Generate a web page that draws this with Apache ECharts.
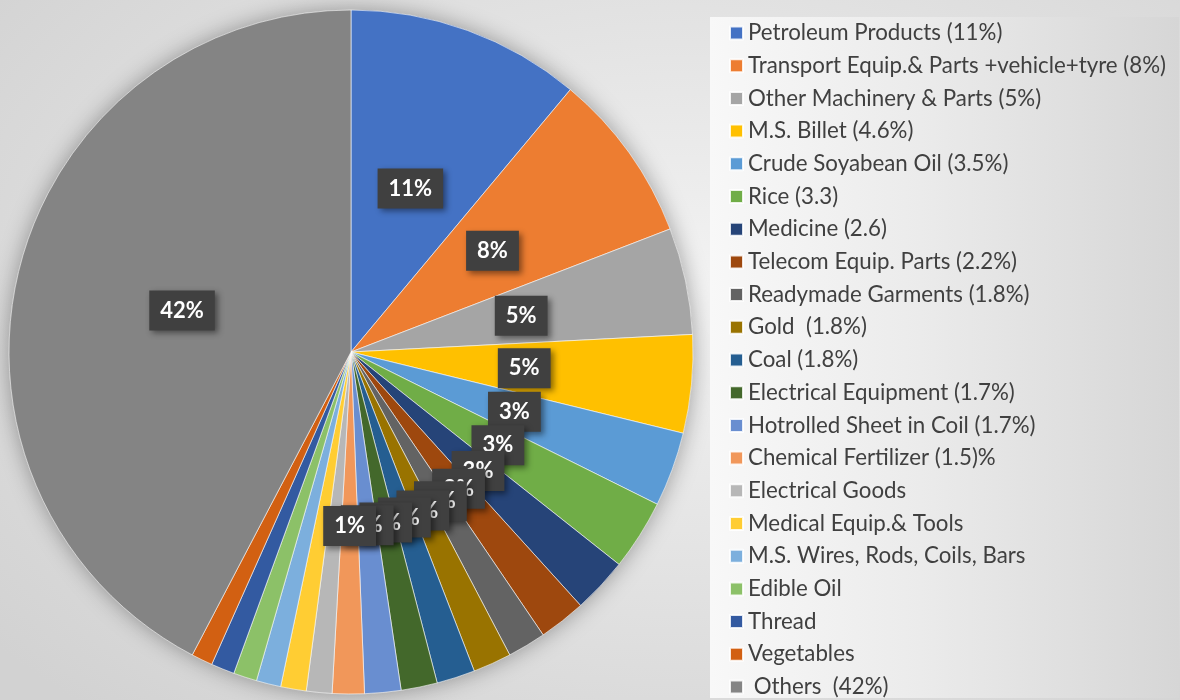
<!DOCTYPE html>
<html lang="en">
<head>
    <meta charset="UTF-8">
    <title>Import share</title>
    <script src="https://cdn.jsdelivr.net/npm/echarts@6/dist/echarts.min.js"></script>
    <style>
        html, body { margin: 0; padding: 0; }
        #chart {
            width: 1180px; height: 700px;
            background: radial-gradient(ellipse 75% 80% at 58% 42%, #f3f3f3 0%, #e4e4e4 45%, #d2d2d2 100%);
        }
    </style>
</head>
<body>
    <div id="chart"></div>
    <script type="text/javascript">
        // categories as in the legend
        let items = [
            'Petroleum Products (11%)',
            'Transport Equip.& Parts +vehicle+tyre (8%)',
            'Other Machinery & Parts (5%)',
            'M.S. Billet (4.6%)',
            'Crude Soyabean Oil (3.5%)',
            'Rice (3.3)',
            'Medicine (2.6)',
            'Telecom Equip. Parts (2.2%)',
            'Readymade Garments (1.8%)',
            'Gold  (1.8%)',
            'Coal (1.8%)',
            'Electrical Equipment (1.7%)',
            'Hotrolled Sheet in Coil (1.7%)',
            'Chemical Fertilizer (1.5)%',
            'Electrical Goods',
            'Medical Equip.& Tools',
            'M.S. Wires, Rods, Coils, Bars',
            'Edible Oil',
            'Thread',
            'Vegetables',
            ' Others  (42%)'
        ];
        // share in percent
        let shares = [11, 8, 5, 4.6, 3.5, 3.3, 2.6, 2.2, 1.8, 1.8, 1.8, 1.7, 1.7, 1.5,
                      1.2, 1.2, 1.15, 1.1, 1.1, 1.0, 42];
        // slice labels as printed on the chart ('' = no label)
        let pctLabels = ['11%', '8%', '5%', '5%', '3%', '3%', '3%', '2%', '2%', '2%', '2%', '2%', '2%', '1%',
                         '', '', '', '', '', '', '42%'];
        let colors = ['#4472C4', '#ED7D31', '#A5A5A5', '#FFC000', '#5B9BD5', '#70AD47', '#264478',
                      '#9E480E', '#636363', '#997300', '#255E91', '#43682B', '#698ED0', '#F1975A',
                      '#B7B7B7', '#FFCD33', '#7CAFDD', '#8CC168', '#335AA1', '#D26012', '#848484'];

        let myChart = echarts.init(document.getElementById('chart'));

        let data = [];
        items.forEach((name, i) => {
            data.push({
                name: name,
                value: shares[i],
                itemStyle: {color: colors[i]},
                label: {show: pctLabels[i] !== ''}
            });
        });

        let option = {
            animation: false,
            color: colors,
            legend: {
                orient: 'vertical',
                left: 710,
                top: 17,
                padding: [5, 13, 0, 19],
                itemWidth: 13,
                itemHeight: 13,
                itemGap: 10.7,
                icon: 'rect',
                backgroundColor: new echarts.graphic.LinearGradient(0, 0, 1, 0, [
                    {offset: 0, color: '#f8f8f8'},
                    {offset: 0.45, color: '#ebebeb'},
                    {offset: 1, color: '#d6d6d6'}
                ]),
                textStyle: {
                    fontFamily: 'Lato',
                    fontSize: 22.3,
                    lineHeight: 20,
                    color: '#404040'
                },
                data: items
            },
            series: [
                {
                    // soft shadow under the pie
                    name: 'shadow',
                    type: 'pie',
                    silent: true,
                    z: 1,
                    center: [351, 352],
                    radius: 342,
                    label: {show: false},
                    itemStyle: {
                        color: '#848484',
                        shadowBlur: 22,
                        shadowColor: 'rgba(0,0,0,0.35)'
                    },
                    data: [{name: '_bg', value: 1}]
                },
                {
                    name: 'Import',
                    type: 'pie',
                    z: 2,
                    center: [351, 352],
                    radius: 342,
                    startAngle: 90,
                    clockwise: true,
                    avoidLabelOverlap: false,
                    labelLayout: {hideOverlap: false},
                    itemStyle: {
                        borderColor: 'rgba(255,255,255,0.85)',
                        borderWidth: 0.7
                    },
                    label: {
                        position: 'inside',
                        formatter: p => pctLabels[p.dataIndex],
                        fontFamily: 'Lato',
                        fontWeight: 'bold',
                        fontSize: 22,
                        lineHeight: 20,
                        color: '#ffffff',
                        backgroundColor: '#404040',
                        padding: [10, 11],
                        shadowBlur: 6,
                        shadowOffsetX: 3,
                        shadowOffsetY: 3,
                        shadowColor: 'rgba(0,0,0,0.45)'
                    },
                    labelLine: {show: false},
                    emphasis: {disabled: true},
                    data: data
                }
            ]
        };
        myChart.setOption(option);
    </script>
</body>
</html>
